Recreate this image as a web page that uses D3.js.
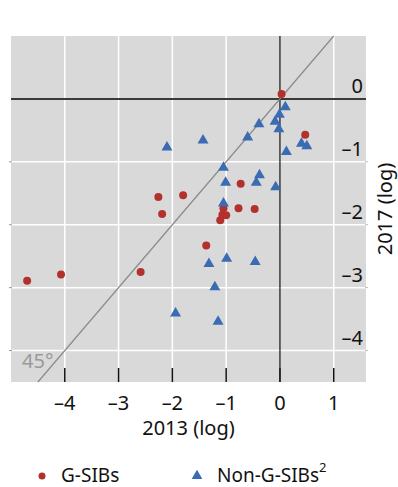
<!DOCTYPE html>
<html>
<head>
<meta charset="utf-8">
<script src="https://cdn.jsdelivr.net/npm/d3@7"></script>
<style>
  body { margin: 0; background: #fff; }
  svg text { font-family: "Noto Sans", "Open Sans", sans-serif; fill: #111; }
</style>
</head>
<body>
<svg id="chart"></svg>
<script>
// G-SIBs: [2013 log, 2017 log]
const gsibs = [
  [0.03, 0.08], [0.47, -0.57], [-2.26, -1.56], [-1.80, -1.53], [-2.19, -1.83],
  [-0.73, -1.35], [-1.05, -1.74], [-1.07, -1.84], [-1.00, -1.85], [-1.11, -1.93],
  [-0.77, -1.74], [-0.47, -1.75], [-1.37, -2.33], [-4.70, -2.89], [-4.07, -2.79],
  [-2.59, -2.75]
];
// Non-G-SIBs
const nonGsibs = [
  [0.10, -0.13], [-0.01, -0.25], [-0.09, -0.36], [-0.02, -0.48], [-0.39, -0.40],
  [-0.60, -0.61], [-1.43, -0.66], [0.40, -0.71], [0.50, -0.75], [0.12, -0.84],
  [-2.10, -0.77], [-1.05, -1.09], [-1.01, -1.33], [-0.38, -1.21], [-0.44, -1.33],
  [-0.08, -1.40], [-1.05, -1.66], [-1.32, -2.62], [-0.99, -2.54], [-0.46, -2.59],
  [-1.21, -2.99], [-1.94, -3.41], [-1.15, -3.54]
];
const xTicks = [-4, -3, -2, -1, 0, 1];
const yTicks = [0, -1, -2, -3, -4];

const W = 398, H = 487;
const margin = {top: 36, right: 32, bottom: 105, left: 11};
const width = W - margin.left - margin.right;
const height = H - margin.top - margin.bottom;
const red = "#b3312d", blue = "#3a6bb3";
const fs = "20px";
const fmt = d => (d < 0 ? "\u2013" + Math.abs(d) : "" + d);

const svg = d3.select("#chart").attr("width", W).attr("height", H);
const chart = svg.append("g").attr("transform", `translate(${margin.left},${margin.top})`);

const x = d3.scaleLinear().domain([-5, 1.6]).range([0, width]);
const y = d3.scaleLinear().domain([-4.5, 1]).range([height, 0]);

chart.append("rect").attr("width", width).attr("height", height).attr("fill", "#d9d9d9");

// grid
chart.selectAll(".vg").data(xTicks.filter(d => d !== 0)).enter().append("line")
  .attr("x1", d => x(d)).attr("x2", d => x(d)).attr("y1", 0).attr("y2", height)
  .attr("stroke", "#fff").attr("stroke-width", 1.5);
chart.selectAll(".hg").data(yTicks.filter(d => d !== 0)).enter().append("line")
  .attr("x1", 0).attr("x2", width).attr("y1", d => y(d)).attr("y2", d => y(d))
  .attr("stroke", "#fff").attr("stroke-width", 1.5);

// small edge ticks
chart.selectAll(".lt").data(yTicks.filter(d => d !== 0)).enter().append("line")
  .attr("x1", -2).attr("x2", 1).attr("y1", d => y(d)).attr("y2", d => y(d))
  .attr("stroke", "#999");
chart.selectAll(".rt").data(yTicks.filter(d => d !== 0)).enter().append("line")
  .attr("x1", width - 1).attr("x2", width + 2).attr("y1", d => y(d)).attr("y2", d => y(d))
  .attr("stroke", "#bbb");

// x axis ticks inside the plot
chart.selectAll(".xt").data(xTicks).enter().append("line")
  .attr("x1", d => x(d)).attr("x2", d => x(d)).attr("y1", height - 14).attr("y2", height)
  .attr("stroke", "#111").attr("stroke-width", 1.5);

// zero lines
chart.append("line").attr("x1", 0).attr("x2", width).attr("y1", y(0)).attr("y2", y(0))
  .attr("stroke", "#3a3a3a").attr("stroke-width", 2);
chart.append("line").attr("x1", x(0)).attr("x2", x(0)).attr("y1", 0).attr("y2", height)
  .attr("stroke", "#222").attr("stroke-width", 1.3);

// 45 degree line
chart.append("line")
  .attr("x1", x(-4.5)).attr("y1", y(-4.5)).attr("x2", x(1)).attr("y2", y(1))
  .attr("stroke", "#8a8a8a").attr("stroke-width", 1.2);
chart.append("text").attr("x", 11).attr("y", height - 14)
  .style("font-size", fs).style("fill", "#999").text("45°");

// points
chart.selectAll(".g").data(gsibs).enter().append("circle")
  .attr("cx", d => x(d[0])).attr("cy", d => y(d[1])).attr("r", 4)
  .attr("fill", red);
const tri = d3.symbol().type(d3.symbolTriangle).size(52);
chart.selectAll(".n").data(nonGsibs).enter().append("path")
  .attr("d", tri)
  .attr("transform", d => `translate(${x(d[0])},${y(d[1])})`)
  .attr("fill", blue);

// y tick labels (right, above gridline)
chart.selectAll(".yl").data(yTicks).enter().append("text")
  .attr("x", width - 3).attr("y", d => y(d) - 6)
  .attr("text-anchor", "end").style("font-size", fs).text(fmt);

// x tick labels
chart.selectAll(".xl").data(xTicks).enter().append("text")
  .attr("x", d => x(d)).attr("y", height + 28)
  .attr("text-anchor", "middle").style("font-size", fs).text(fmt);

// axis titles
chart.append("text").attr("x", width / 2).attr("y", height + 53)
  .attr("text-anchor", "middle").style("font-size", fs).text("2013 (log)");
svg.append("text")
  .attr("transform", `translate(392,${margin.top + y(-1.75)}) rotate(-90)`)
  .attr("text-anchor", "middle").style("font-size", fs).text("2017 (log)");

// legend
const leg = svg.append("g").attr("transform", "translate(0,476)");
leg.append("circle").attr("cx", 42).attr("cy", 0).attr("r", 3.5).attr("fill", red);
leg.append("text").attr("x", 61).attr("y", 6).style("font-size", "19px").text("G-SIBs");
leg.append("path").attr("d", d3.symbol().type(d3.symbolTriangle).size(50))
  .attr("transform", "translate(197,0)").attr("fill", blue);
const t2 = leg.append("text").attr("x", 217).attr("y", 6).style("font-size", "19px");
t2.append("tspan").text("Non-G-SIBs");
t2.append("tspan").attr("dy", -10).style("font-size", "13px").text("2");
</script>
</body>
</html>
